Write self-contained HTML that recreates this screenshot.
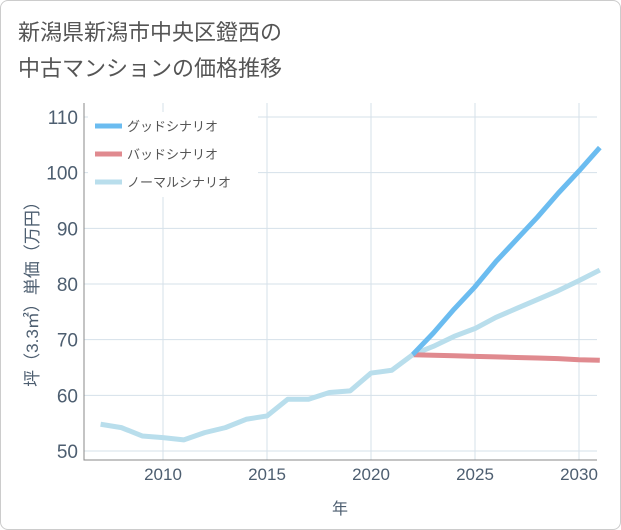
<!DOCTYPE html>
<html><head><meta charset="utf-8"><style>
body{margin:0;background:#fff;font-family:"Liberation Sans","Noto Sans CJK JP",sans-serif;}
#wrap{position:relative;width:619px;height:528px;border:1px solid #ccc;border-radius:8px;overflow:hidden;background:#fff}
</style></head><body>
<div id="wrap">
<svg id="c" width="621" height="530" style="position:absolute;left:-1px;top:-1px">
<text x="18" y="40" font-size="22" fill="#555">新潟県新潟市中央区鐙西の</text>
<text x="18" y="76" font-size="22" fill="#555">中古マンションの価格推移</text>
</svg>
</div>
<script>
const years=[2007,2008,2009,2010,2011,2012,2013,2014,2015,2016,2017,2018,2019,2020,2021,2022];
const hist=[54.8,54.2,52.7,52.4,52.0,53.3,54.2,55.7,56.3,59.3,59.3,60.5,60.8,64.0,64.5,67.3];
const fYears=[2022,2023,2024,2025,2026,2027,2028,2029,2030,2031];
const good=[67.3,71.2,75.5,79.5,84.0,88.0,92.0,96.3,100.3,104.5];
const bad=[67.3,67.2,67.1,67.0,66.9,66.8,66.7,66.6,66.4,66.3];
const normal=[67.3,68.8,70.6,72.0,74.0,75.6,77.2,78.8,80.6,82.5];
const xTicks=[2010,2015,2020,2025,2030];
const yTicks=[50,60,70,80,90,100,110];
const L=84,R=597,T=103,B=460;
const X=v=>163+(v-2010)*20.8;
const Y=v=>451-(v-50)*5.567;
const svg=document.getElementById('c');
const NS='http://www.w3.org/2000/svg';
const TC='#4d5e70';
function mk(t,a,p){const e=document.createElementNS(NS,t);for(const k in a)e.setAttribute(k,a[k]);(p||svg).appendChild(e);return e;}
const grid=mk('g',{});


xTicks.forEach(v=>{const l=mk('line',{x1:X(v),x2:X(v),y1:T,y2:B,stroke:'#d5e1ea'},grid);
const t=mk('text',{x:X(v),y:B+20,'text-anchor':'middle','font-size':17,fill:TC});t.textContent=v;});
yTicks.forEach(v=>{const l=mk('line',{x1:L,x2:R,y1:Y(v),y2:Y(v),stroke:'#d5e1ea'},grid);
const t=mk('text',{x:L-6,y:Y(v)+7,'text-anchor':'end','font-size':19,fill:TC});t.textContent=v;});
const fr=mk('path',{d:`M${L} ${T}V${B}H${R}`,fill:'none',stroke:'#888'});

function line(xs,ys,col,name){const p=mk('polyline',{points:xs.map((x,i)=>X(x)+','+Y(ys[i])).join(' '),fill:'none',stroke:col,'stroke-width':5,'stroke-linejoin':'round'});}
line(fYears,normal,'#b9deec','normal-scenario-line');
line(fYears,bad,'#e08a8f','bad-scenario-line');
line(fYears,good,'#6bbcf0','good-scenario-line');
line(years,hist,'#b9deec','historical-line');
const lg=mk('g',{});
mk('rect',{x:88,y:112,width:170,height:85,fill:'#fff'},lg);
[['グッドシナリオ','#6bbcf0'],['バッドシナリオ','#e08a8f'],['ノーマルシナリオ','#b9deec']].forEach((d,i)=>{
const y=126+i*28;mk('line',{x1:95,x2:122,y1:y,y2:y,stroke:d[1],'stroke-width':5},lg);
const t=mk('text',{x:127,y:y+5,'font-size':13,fill:'#555'},lg);t.textContent=d[0];});
const xt=mk('text',{x:340,y:514,'text-anchor':'middle','font-size':16,fill:TC});xt.textContent='年';
const yt=mk('text',{x:0,y:0,'text-anchor':'middle','font-size':17,fill:TC,transform:'translate(38,290) rotate(-90)'});yt.textContent='坪（3.3㎡）単価（万円）';
</script>
</body></html>
